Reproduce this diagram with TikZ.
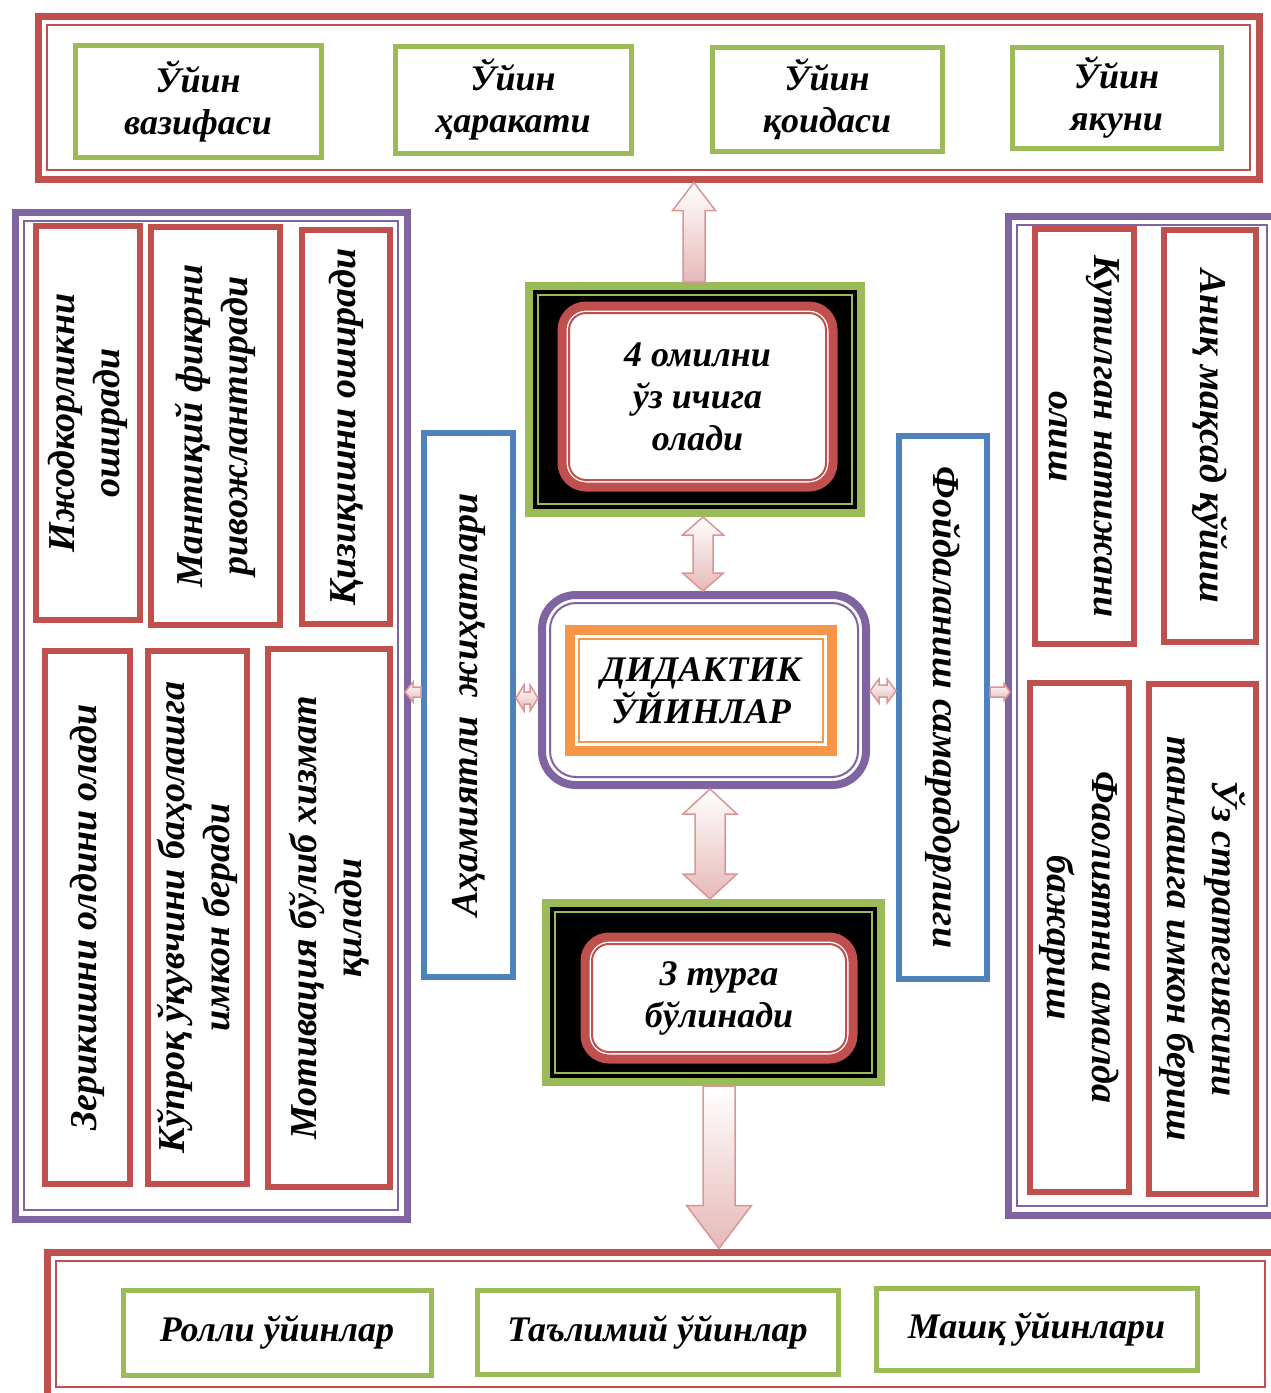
\documentclass[tikz,border=0pt]{standalone}
\usepackage{fontspec}
\setmainfont{Liberation Serif}
\usetikzlibrary{calc}

\definecolor{boxred}{HTML}{C0504D}
\definecolor{boxgreen}{HTML}{9BBB59}
\definecolor{boxblue}{HTML}{4F81BD}
\definecolor{boxpurple}{HTML}{8064A2}
\definecolor{boxorange}{HTML}{F79646}
\definecolor{arrowline}{HTML}{D99694}
\definecolor{arrowfill}{HTML}{E6B9B8}

\tikzset{
  htext/.style={font=\bfseries\itshape\fontsize{36}{42}\selectfont, align=center},
  vtext/.style={font=\bfseries\itshape\fontsize{38}{45}\selectfont, align=center},
  inline/.style n args={3}{path picture={\draw[draw=#1, line width=#2, sharp corners]
      ([xshift=#3, yshift=-#3]path picture bounding box.north west) rectangle
      ([xshift=-#3, yshift=#3]path picture bounding box.south east);}},
  rinline/.style n args={4}{path picture={\draw[draw=#1, line width=#2, rounded corners=#4]
      ([xshift=#3, yshift=-#3]path picture bounding box.north west) rectangle
      ([xshift=-#3, yshift=#3]path picture bounding box.south east);}},
  frame/.style={draw=#1, line width=7pt, fill=white, inner sep=0pt, inline={#1}{2pt}{9pt}},
  greenbox/.style={draw=boxgreen, line width=5pt, fill=white, inner sep=0pt, htext},
  redbox/.style={draw=boxred, line width=6pt, fill=white, inner sep=0pt, vtext},
  bluebox/.style={draw=boxblue, line width=6pt, fill=white, inner sep=0pt, vtext},
  blackbox/.style={draw=boxgreen, line width=8pt, fill=black, inner sep=0pt, inline={boxgreen}{2pt}{9pt}},
  roundred/.style={draw=boxred, line width=9pt, fill=white, inner sep=0pt, rounded corners=24pt,
      rinline={boxred}{2pt}{7pt}{17pt}, htext},
  roundpurple/.style={draw=boxpurple, line width=8pt, fill=white, inner sep=0pt, rounded corners=34pt,
      rinline={boxpurple}{2pt}{8pt}{26pt}},
  orangebox/.style={draw=boxorange, line width=10pt, fill=white, inner sep=0pt,
      inline={boxorange}{2.5pt}{9pt}, htext},
  blockarrow/.style={draw=arrowline, line width=1.5pt, top color=white, bottom color=arrowfill},
}

% block arrows: #3 shaft half width, #4 head half width, #5 head length
\newcommand\blkup[5]{% tip, tail
  \path[blockarrow] let \p1=#1, \p2=#2 in
    (\x1,\y1) -- (\x1+#4,\y1-#5) -- (\x1+#3,\y1-#5) -- (\x1+#3,\y2) -- (\x1-#3,\y2)
    -- (\x1-#3,\y1-#5) -- (\x1-#4,\y1-#5) -- cycle;}
\newcommand\blkdown[5]{% tail, tip
  \path[blockarrow] let \p1=#1, \p2=#2 in
    (\x1-#3,\y1) -- (\x1+#3,\y1) -- (\x1+#3,\y2+#5) -- (\x1+#4,\y2+#5) -- (\x1,\y2)
    -- (\x1-#4,\y2+#5) -- (\x1-#3,\y2+#5) -- cycle;}
\newcommand\blkupdown[5]{% top tip, bottom tip
  \path[blockarrow] let \p1=#1, \p2=#2 in
    (\x1,\y1) -- (\x1+#4,\y1-#5) -- (\x1+#3,\y1-#5) -- (\x1+#3,\y2+#5) -- (\x1+#4,\y2+#5)
    -- (\x1,\y2) -- (\x1-#4,\y2+#5) -- (\x1-#3,\y2+#5) -- (\x1-#3,\y1-#5) -- (\x1-#4,\y1-#5) -- cycle;}
\newcommand\blkleftright[5]{% left tip, right tip
  \path[blockarrow] let \p1=#1, \p2=#2 in
    (\x1,\y1) -- (\x1+#5,\y1+#4) -- (\x1+#5,\y1+#3) -- (\x2-#5,\y1+#3) -- (\x2-#5,\y1+#4)
    -- (\x2,\y1) -- (\x2-#5,\y1-#4) -- (\x2-#5,\y1-#3) -- (\x1+#5,\y1-#3) -- (\x1+#5,\y1-#4) -- cycle;}
\newcommand\blkleft[5]{% tip, tail
  \path[blockarrow] let \p1=#1, \p2=#2 in
    (\x1,\y1) -- (\x1+#5,\y1+#4) -- (\x1+#5,\y1+#3) -- (\x2,\y1+#3) -- (\x2,\y1-#3)
    -- (\x1+#5,\y1-#3) -- (\x1+#5,\y1-#4) -- cycle;}
\newcommand\blkright[5]{% tail, tip
  \path[blockarrow] let \p1=#1, \p2=#2 in
    (\x1,\y1+#3) -- (\x2-#5,\y1+#3) -- (\x2-#5,\y1+#4) -- (\x2,\y1) -- (\x2-#5,\y1-#4)
    -- (\x2-#5,\y1-#3) -- (\x1,\y1-#3) -- cycle;}

\begin{document}
\begin{tikzpicture}[x=1pt, y=-1pt]
\useasboundingbox (0,0) rectangle (1271,1393);

% outer frames
\node[frame=boxred, minimum width=1221, minimum height=163] (topframe) at (648.5,97.5) {};
\node[frame=boxpurple, minimum width=392, minimum height=1007] (leftframe) at (211,715.5) {};
\node[frame=boxpurple, minimum width=268, minimum height=999] (rightframe) at (1142,715.5) {};
\node[frame=boxred, minimum width=1227, minimum height=144] (botframe) at (660.5,1324) {};

% top row
\node[greenbox, minimum width=246, minimum height=112] (task) at (198,101) {Ўйин\\вазифаси};
\node[greenbox, minimum width=236, minimum height=107] (action) at (513,99.5) {Ўйин\\ҳаракати};
\node[greenbox, minimum width=230, minimum height=104] (rule) at (827,99) {Ўйин\\қоидаси};
\node[greenbox, minimum width=209, minimum height=101] (result) at (1116.5,97.5) {Ўйин\\якуни};

% left column
\node[redbox, rotate=90, minimum width=394, minimum height=104] (creat) at (88,423) {Ижодкорликни\\оширади};
\node[redbox, rotate=90, minimum width=398, minimum height=129] (logic) at (215.5,426) {Мантиқий фикрни\\ривожлантиради};
\node[redbox, rotate=90, minimum width=394, minimum height=88] (interest) at (346,427) {Қизиқишни оширади};
\node[redbox, rotate=90, minimum width=533, minimum height=85] (boredom) at (87.5,917.5) {Зерикишни олдини олади};
\node[redbox, rotate=90, minimum width=533, minimum height=99] (assess) at (197.5,917.5) {Кўпроқ ўқувчини баҳолашга\\имкон беради};
\node[redbox, rotate=90, minimum width=538, minimum height=122] (motiv) at (329,918) {Мотивация бўлиб хизмат\\қилади};

% side bars
\node[bluebox, rotate=90, minimum width=544, minimum height=89] (import) at (468.5,705) {Аҳамиятли\ \ жиҳатлари};
\node[bluebox, rotate=-90, minimum width=543, minimum height=88] (effic) at (943,707.5) {Фойдаланиш самарадорлиги};

% right column
\node[redbox, rotate=-90, minimum width=415, minimum height=99] (expect) at (1084.5,436.5) {Кутилган натижани\\олиш};
\node[redbox, rotate=-90, minimum width=412, minimum height=92] (goal) at (1210,436) {Аниқ мақсад қўйиш};
\node[redbox, rotate=-90, minimum width=509, minimum height=99] (practice) at (1079.5,937.5) {Фаолиятни амалда\\бажариш};
\node[redbox, rotate=-90, minimum width=510, minimum height=107] (strategy) at (1202.5,939) {Ўз стратегиясини\\танлашга имкон бериш};

% centre
\node[blackbox, minimum width=332, minimum height=227] (fourbox) at (695,399.5) {};
\node[roundred, minimum width=271, minimum height=181] (four) at (697.5,396.5) {4 омилни\\ўз ичига\\олади};
\node[roundpurple, minimum width=324, minimum height=190] (didframe) at (704,690) {};
\node[orangebox, minimum width=262, minimum height=121] (didactic) at (701,690.5) {ДИДАКТИК\\ЎЙИНЛАР};
\node[blackbox, minimum width=335, minimum height=179] (threebox) at (713.5,992.5) {};
\node[roundred, minimum width=268, minimum height=122] (three) at (719,998) {3 турга\\бўлинади};

% bottom row
\node[greenbox, minimum width=308, minimum height=85] (role) at (277,1332.5) {Ролли ўйинлар};
\node[greenbox, minimum width=361, minimum height=84] (teach) at (657.5,1332) {Таълимий ўйинлар};
\node[greenbox, minimum width=321, minimum height=82] (drill) at (1036.5,1329) {Машқ ўйинлари};

% arrows
\blkup{(694,0 |- topframe.south)}{(694,0 |- fourbox.north)}{11pt}{21.5pt}{28pt}
\blkupdown{(703,0 |- fourbox.south)}{(703,0 |- didframe.north)}{10pt}{20.5pt}{18pt}
\blkupdown{(710,0 |- didframe.south)}{(710,0 |- threebox.north)}{15pt}{27pt}{25pt}
\blkdown{(719,0 |- threebox.south)}{(719,0 |- botframe.north)}{16pt}{32.5pt}{43pt}
\blkleft{(405,692)}{(import.north |- 0,692)}{5pt}{10pt}{8pt}
\blkleftright{(import.south |- 0,698)}{(didframe.west |- 0,698)}{6pt}{13pt}{8pt}
\blkleftright{(didframe.east |- 0,691)}{(effic.south |- 0,691)}{6pt}{12pt}{9pt}
\blkright{(effic.north |- 0,692)}{(1010,692)}{5pt}{8.5pt}{6pt}
\end{tikzpicture}
\end{document}
